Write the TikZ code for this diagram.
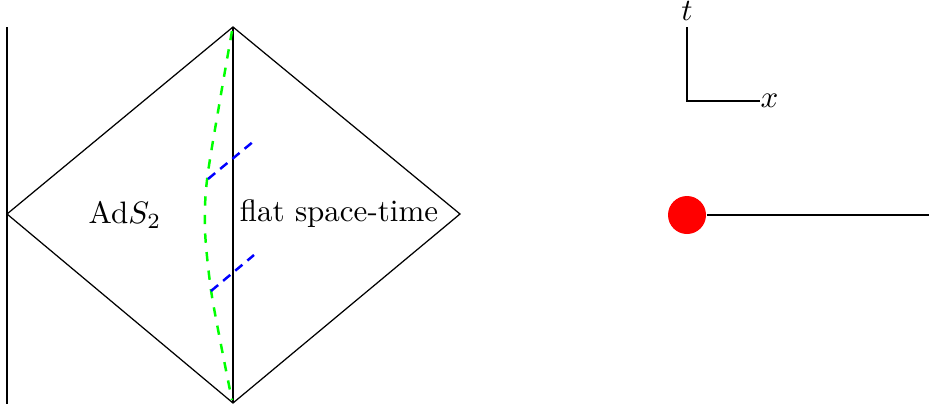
\documentclass[tikz,border=0pt]{standalone}
\begin{document}
\begin{tikzpicture}[x=0.3225pt,y=-0.3225pt,
  thinline/.style={black,line width=0.4pt},
  greendash/.style={green,dashed,line width=0.8pt},
  bluedash/.style={blue,line width=0.8pt,dash pattern=on 3pt off 2.1pt},
  lbl/.style={inner sep=0pt}]
\useasboundingbox (0,0) rectangle (929,410);
% diamond vertices
\coordinate (L) at (7,214);
\coordinate (T) at (233,27);
\coordinate (R) at (460,214);
\coordinate (B) at (233,403);
\coordinate (bt) at (7,27);
\coordinate (bb) at (7,404);
\draw[thinline] (bt) -- (bb);
\draw[thinline] (L) -- (T) -- (R) -- (B) -- cycle;
\draw[thinline] (T) -- (B);
% green curve
\draw[greendash] plot[smooth] coordinates {(232,31) (220,100) (207,180) (205,230) (211,290) (222,350) (232,400)};
% blue dashes
\coordinate (b1s) at (208,179);
\coordinate (b1e) at (254,141);
\coordinate (b2s) at (211,291);
\coordinate (b2e) at (254,255);
\draw[bluedash] (b1s) -- (b1e);
\draw[bluedash] (b2s) -- (b2e);
% labels
\node[lbl] (ads) at (125,215) {Ad$S_2$};
\node[lbl] (flat) at (339,214) {flat space-time};
% axes
\coordinate (O) at (687,101);
\coordinate (tt) at (687,27);
\coordinate (xx) at (760,101);
\draw[thinline] (tt) -- (O) -- (xx);
\node[lbl,anchor=south] (tl) at (tt) [yshift=2pt] {$t$};
\node[lbl,anchor=west] (xl) at (xx) {$x$};
% red dot and line
\node[circle,fill=red,minimum size=38*0.3225pt,inner sep=0pt] (dot) at (687,215) {};
\coordinate (lend) at (929,215);
\draw[black,line width=0.8pt] (dot.east) -- (lend);
\end{tikzpicture}
\end{document}
